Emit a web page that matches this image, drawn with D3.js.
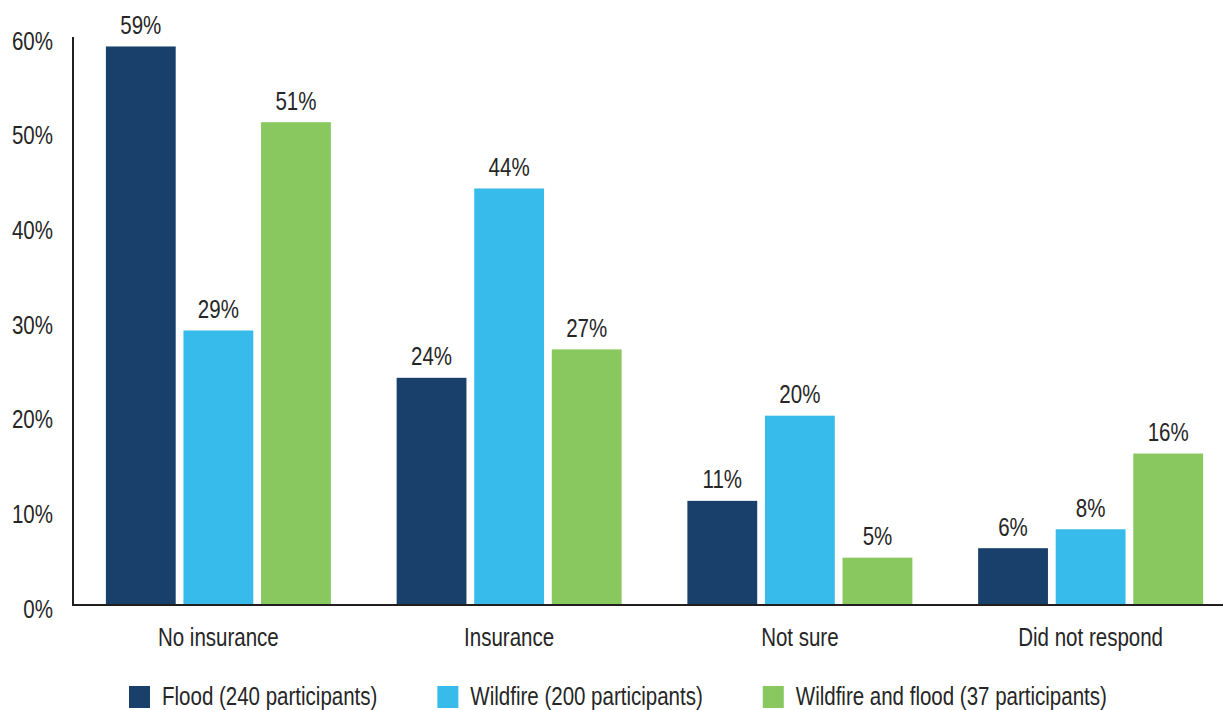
<!DOCTYPE html>
<html>
<head>
<meta charset="utf-8">
<script src="https://cdn.jsdelivr.net/npm/d3@7"></script>
<style>
  html, body { margin: 0; padding: 0; background: #ffffff; }
  svg { display: block; }
  text { font-family: "Liberation Sans", Arial, sans-serif; fill: #262626; }
</style>
</head>
<body>
<svg id="chart" width="1223" height="710"></svg>
<script>
// ---- data ----
const categories = ["No insurance", "Insurance", "Not sure", "Did not respond"];
const seriesNames = ["Flood (240 participants)", "Wildfire (200 participants)", "Wildfire and flood (37 participants)"];
const flood = [59, 24, 11, 6];
const wildfire = [29, 44, 20, 8];
const wildfireAndFlood = [51, 27, 5, 16];
const yTicks = [0, 10, 20, 30, 40, 50, 60];
const colors = ["#18406b", "#36bbea", "#89c75f"];

const seriesValues = [flood, wildfire, wildfireAndFlood];
const rows = categories.map((c, i) => ({
  category: c,
  values: seriesNames.map((s, j) => ({ key: s, idx: j, value: seriesValues[j][i] }))
}));

// ---- layout ----
const svg = d3.select("#chart");
const x0Left = 73, x0Right = 1236, yTop = 37, yBottom = 605;

const x0 = d3.scaleBand().domain(categories).range([x0Left, x0Right]).padding(0);
const groupInner = 225;
const gOff = (x0.bandwidth() - groupInner) / 2;
const x1 = d3.scaleBand().domain(seriesNames).range([gOff, gOff + groupInner]).paddingInner(0.1).paddingOuter(0);
const y = d3.scaleLinear().domain([0, 60]).range([yBottom, yTop]);

const fontSize = 25;
const narrow = 0.82;
function condense(sel) {
  sel.each(function () {
    const w = this.getComputedTextLength();
    this.__narrowWidth = w * narrow;
    d3.select(this).attr("textLength", w * narrow).attr("lengthAdjust", "spacingAndGlyphs");
  });
}

// y tick labels
svg.append("g").selectAll("text")
  .data(yTicks).join("text")
  .attr("x", 53)
  .attr("y", d => y(d) + 12.5)
  .attr("text-anchor", "end")
  .style("font-size", fontSize + "px")
  .text(d => d + "%")
  .call(condense);

// bars
const groups = svg.append("g").selectAll("g")
  .data(rows).join("g")
  .attr("transform", d => `translate(${x0(d.category)},0)`);

groups.selectAll("rect")
  .data(d => d.values).join("rect")
  .attr("x", d => x1(d.key))
  .attr("width", x1.bandwidth())
  .attr("y", d => y(d.value))
  .attr("height", d => y(0) - y(d.value))
  .attr("fill", d => colors[d.idx]);

groups.selectAll("text.val")
  .data(d => d.values).join("text")
  .attr("class", "val")
  .attr("x", d => x1(d.key) + x1.bandwidth() / 2)
  .attr("y", d => y(d.value) - 12.5)
  .attr("text-anchor", "middle")
  .style("font-size", fontSize + "px")
  .text(d => d.value + "%")
  .call(condense);

// category labels
groups.append("text")
  .attr("x", x0.bandwidth() / 2)
  .attr("y", 646)
  .attr("text-anchor", "middle")
  .style("font-size", fontSize + "px")
  .text(d => d.category)
  .call(condense);

// axes lines
svg.append("line")
  .attr("x1", x0Left).attr("x2", x0Left)
  .attr("y1", y(60)).attr("y2", y(0) + 1)
  .attr("stroke", "#231f20").attr("stroke-width", 2);
svg.append("line")
  .attr("x1", x0Left - 1).attr("x2", 1223)
  .attr("y1", y(0)).attr("y2", y(0))
  .attr("stroke", "#231f20").attr("stroke-width", 2);

// legend
const legend = svg.append("g");
let lx = 129;
seriesNames.forEach((s, i) => {
  const item = legend.append("g").attr("transform", `translate(${lx},0)`);
  item.append("rect").attr("x", 0).attr("y", 686).attr("width", 21).attr("height", 22).attr("fill", colors[i]);
  const t = item.append("text").attr("x", 33).attr("y", 705).style("font-size", fontSize + "px").text(s);
  t.call(condense);
  const w = t.node().__narrowWidth;
  lx += 33 + w + 60;
});
</script>
</body>
</html>
